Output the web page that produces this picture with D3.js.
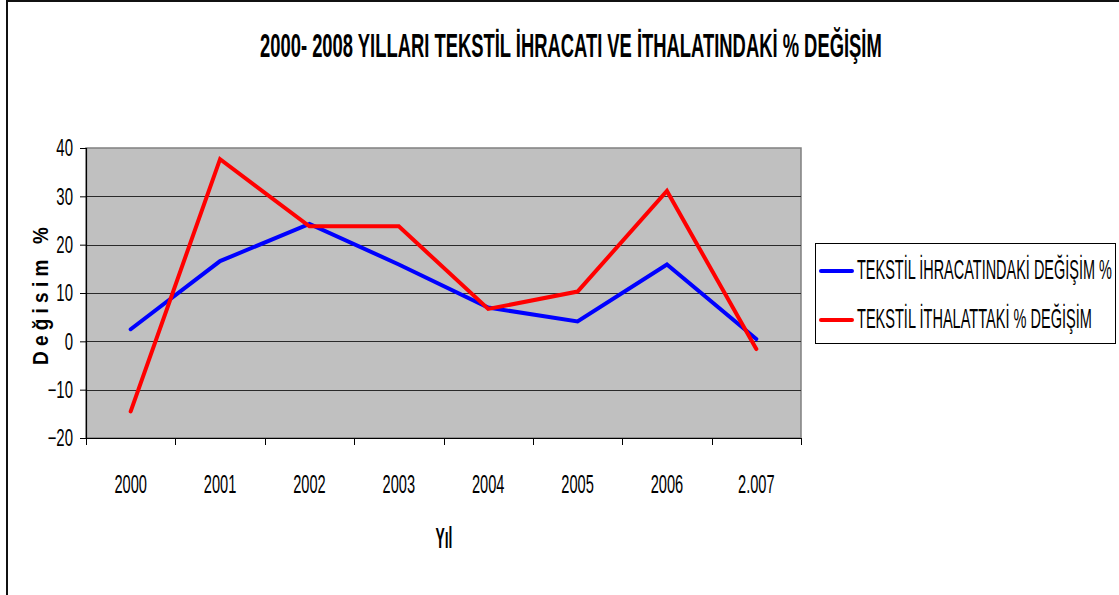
<!DOCTYPE html>
<html>
<head>
<meta charset="utf-8">
<script src="https://cdn.jsdelivr.net/npm/d3@7"></script>
<style>
  html, body { margin: 0; padding: 0; background: #fff; }
  svg { display: block; font-family: "Liberation Sans", Arial, sans-serif; }
</style>
</head>
<body>
<svg id="chart" width="1119" height="595"></svg>
<script>
const years = ["2000", "2001", "2002", "2003", "2004", "2005", "2006", "2.007"];
const ihracat = [2.5, 16.6, 24.3, 15.9, 7.0, 4.1, 15.9, 0.5];
const ithalat = [-14.5, 37.7, 23.8, 23.8, 6.7, 10.3, 31.1, -1.6];
const yTicks = [-20, -10, 0, 10, 20, 30, 40];
const seriesNames = ["TEKSTİL İHRACATINDAKİ DEĞİŞİM %", "TEKSTİL İTHALATTAKİ % DEĞİŞİM"];
const seriesColors = ["#0000FF", "#FF0000"];
const titleText = "2000- 2008 YILLARI TEKSTİL İHRACATI VE İTHALATINDAKİ % DEĞİŞİM";
const xTitle = "Yıl";
const yTitle = "D e ğ i s i m   %";

const svg = d3.select("#chart");
const plot = { left: 86, right: 801, top: 148, bottom: 438 };

// place a horizontally condensed text: scale to target width (or factor k)
function label(parent, txt, px, py, opts) {
  const g = parent.append("g").attr("transform", `translate(${px},${py})`);
  const t = g.append("text").attr("x", 0).attr("y", 0)
    .attr("font-size", opts.size).attr("font-weight", opts.weight || "normal")
    .attr("fill", "#000").attr("text-anchor", "start")
    .style("white-space", "pre").text(txt);
  const w = t.node().getComputedTextLength();
  const k = opts.width ? opts.width / w : opts.k;
  const finalW = w * k;
  let dx = 0;
  if (opts.anchor === "middle") dx = -finalW / 2;
  else if (opts.anchor === "end") dx = -finalW;
  const rot = opts.rotate ? ` rotate(${opts.rotate})` : "";
  g.attr("transform", `translate(${px},${py})${rot} translate(${dx},0) scale(${k},1)`);
  return g;
}

// outer frame
svg.append("rect").attr("x", 7).attr("y", 1).attr("width", 1200).attr("height", 700)
  .attr("fill", "none").attr("stroke", "#111").attr("stroke-width", 2);

const x = d3.scaleBand().domain(years).range([plot.left, plot.right]).padding(0);
const y = d3.scaleLinear().domain([-20, 40]).range([plot.bottom, plot.top]);

// plot background
svg.append("rect").attr("x", plot.left).attr("y", plot.top)
  .attr("width", plot.right - plot.left).attr("height", plot.bottom - plot.top)
  .attr("fill", "#C0C0C0").attr("stroke", "#808080").attr("stroke-width", 1.5);

// gridlines
svg.append("g").selectAll("line").data(yTicks.filter(d => d > -20 && d < 40)).join("line")
  .attr("x1", plot.left).attr("x2", plot.right)
  .attr("y1", d => Math.round(y(d)) + 0.5).attr("y2", d => Math.round(y(d)) + 0.5)
  .attr("stroke", "#2a2a2a").attr("stroke-width", 1.2);

// y axis
const yAxis = svg.append("g").attr("transform", `translate(${plot.left},0)`)
  .call(d3.axisLeft(y).tickValues(yTicks).tickSize(6).tickFormat(""));
yAxis.select(".domain").attr("stroke", "#000").attr("stroke-width", 1.2);
yAxis.selectAll(".tick line").attr("stroke", "#000");
yTicks.forEach(v => label(svg, d3.format("d")(v), 73, y(v) + 8.3, { size: 23, k: 0.65, anchor: "end" }));

// x axis
const xAxis = svg.append("g").attr("transform", `translate(0,${plot.bottom})`)
  .call(d3.axisBottom(x).tickSize(0).tickFormat(""));
xAxis.select(".domain").attr("stroke", "#000").attr("stroke-width", 1.2);
years.forEach(yr => label(svg, yr, x(yr) + x.bandwidth() / 2, 493, { size: 25, k: 0.585, anchor: "middle" }));
// boundary ticks between categories
const bounds = years.map(d => x(d)).concat([x(years[years.length - 1]) + x.bandwidth()]);
svg.append("g").selectAll("line").data(bounds).join("line")
  .attr("x1", d => Math.round(d) + 0.5).attr("x2", d => Math.round(d) + 0.5)
  .attr("y1", plot.bottom).attr("y2", plot.bottom + 7)
  .attr("stroke", "#000").attr("stroke-width", 1);

// lines
const line = d3.line().x((d, i) => x(years[i]) + x.bandwidth() / 2).y(d => y(d));
[ihracat, ithalat].forEach((s, i) => {
  svg.append("path").datum(s).attr("d", line).attr("fill", "none")
    .attr("stroke", seriesColors[i]).attr("stroke-width", 4)
    .attr("stroke-linejoin", "miter").attr("stroke-linecap", "round");
});

// title
label(svg, titleText, 571, 57, { size: 33, weight: "bold", width: 622, anchor: "middle" });

// x title
label(svg, xTitle, 444, 548, { size: 30, weight: "bold", width: 17, anchor: "middle" });

// y title
label(svg, yTitle, 48, 296, { size: 22, weight: "bold", width: 138, anchor: "middle", rotate: -90 });

// legend
const lg = svg.append("g");
lg.append("rect").attr("x", 815.5).attr("y", 243.5).attr("width", 300).attr("height", 100)
  .attr("fill", "#fff").attr("stroke", "#000").attr("stroke-width", 1);
const legendY = [271, 320];
const legendW = [255, 235];
seriesNames.forEach((n, i) => {
  lg.append("line").attr("x1", 821).attr("x2", 852).attr("y1", legendY[i]).attr("y2", legendY[i])
    .attr("stroke", seriesColors[i]).attr("stroke-width", 4).attr("stroke-linecap", "round");
  label(lg, n, 857, legendY[i] + 8, { size: 27, width: legendW[i], anchor: "start" });
});
</script>
</body>
</html>
